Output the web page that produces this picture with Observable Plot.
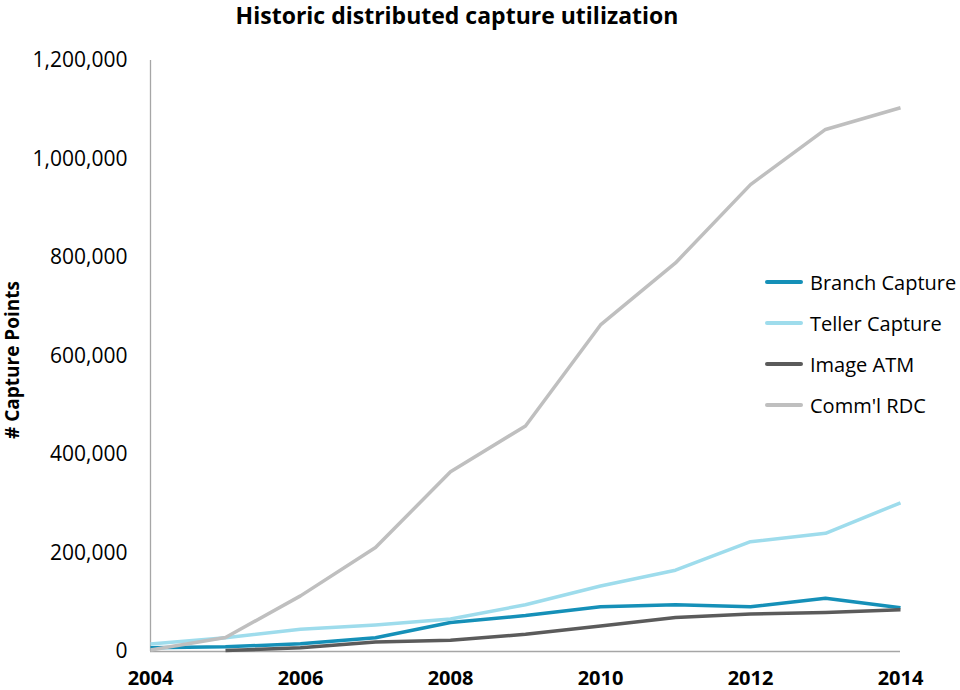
<!DOCTYPE html>
<html><head><meta charset="utf-8">
<script src="https://cdn.jsdelivr.net/npm/d3@7"></script>
<script src="https://cdn.jsdelivr.net/npm/@observablehq/plot@0.6"></script>
<style>
body{margin:0;background:#fff;font-family:"Open Sans",sans-serif;}
#wrap{position:relative;width:960px;height:690px;overflow:hidden;background:#fff}
#title{height:30px;line-height:31px;text-align:center;font-weight:bold;font-size:23px;color:#000;width:914px;white-space:nowrap;overflow:visible}
#ylabel{position:absolute;left:12px;top:360px;transform:translate(-50%,-50%) rotate(-90deg);white-space:nowrap;font-weight:bold;font-size:19px;color:#000}
#legend{position:absolute;left:765px;top:0;}
.li{position:absolute;left:0;white-space:nowrap;font-size:20px;color:#000;display:flex;align-items:center;height:30px;transform:translateY(-50%)}
.sw{width:38px;height:3.5px;margin-right:7px;border-radius:2px}
</style></head><body>
<div id="wrap">
<div id="title">Historic distributed capture utilization</div>
<div id="chart"></div>
<div id="ylabel"># Capture Points</div>
<div id="legend"></div>
</div>
<script>
const years = [2004, 2005, 2006, 2007, 2008, 2009, 2010, 2011, 2012, 2013, 2014];
const branchCapture = [7500, 9500, 15500, 28000, 59000, 73000, 91000, 95000, 91000, 108000, 89000];
const tellerCapture = [15000, 28000, 45000, 54000, 66000, 95000, 133000, 165000, 223000, 240000, 302000];
const imageATMYears = [2005, 2006, 2007, 2008, 2009, 2010, 2011, 2012, 2013, 2014];
const imageATM = [2000, 7500, 19500, 23000, 35000, 52000, 69000, 76000, 79000, 85000];
const commlRDC = [3000, 28500, 113000, 211000, 365000, 458000, 663000, 789000, 948000, 1060000, 1104000];
const seriesNames = ["Branch Capture", "Teller Capture", "Image ATM", "Comm'l RDC"];
const seriesColors = ["#1590b8", "#9edcec", "#5b5b5b", "#bfbfbf"];
const xTicks = [2004, 2006, 2008, 2010, 2012, 2014];
const yTicks = [0, 200000, 400000, 600000, 800000, 1000000, 1200000];

const rows = [];
years.forEach((y, i) => rows.push({year: y, value: branchCapture[i], series: seriesNames[0]}));
years.forEach((y, i) => rows.push({year: y, value: tellerCapture[i], series: seriesNames[1]}));
imageATMYears.forEach((y, i) => rows.push({year: y, value: imageATM[i], series: seriesNames[2]}));
years.forEach((y, i) => rows.push({year: y, value: commlRDC[i], series: seriesNames[3]}));

const chart = Plot.plot({
  width: 960,
  height: 660,
  marginTop: 30,
  marginBottom: 39,
  marginLeft: 150,
  marginRight: 60,
  style: {fontFamily: "Open Sans", fontSize: "21px", color: "#000", background: "#fff"},
  x: {domain: [2004, 2014], label: null},
  y: {domain: [0, 1200000], label: null},
  color: {domain: seriesNames, range: seriesColors},
  marks: [
    Plot.axisY({ticks: yTicks, tickFormat: d3.format(","), tickSize: 0, tickPadding: 23, label: null, fontSize: 21}),
    Plot.axisX({ticks: xTicks, tickFormat: d => String(d), tickSize: 0, tickPadding: 19, label: null, fontWeight: "bold", fontSize: 20}),
    Plot.ruleX([2004], {stroke: "#a6a6a6", strokeWidth: 1.3}),
    Plot.ruleY([0], {stroke: "#a6a6a6", strokeWidth: 1.3}),
    Plot.line(rows, {x: "year", y: "value", z: "series", stroke: "series", strokeWidth: 3.5, strokeLinejoin: "round", strokeLinecap: "butt"})
  ]
});
document.getElementById("chart").appendChild(chart);

const legend = document.getElementById("legend");
const legendTops = [282, 323, 364, 405];
seriesNames.forEach((n, i) => {
  const d = document.createElement("div");
  d.className = "li";
  d.style.top = legendTops[i] + "px";
  const sw = document.createElement("span");
  sw.className = "sw";
  sw.style.background = seriesColors[i];
  const t = document.createElement("span");
  t.textContent = n;
  d.appendChild(sw); d.appendChild(t);
  legend.appendChild(d);
});
</script>
</body></html>
